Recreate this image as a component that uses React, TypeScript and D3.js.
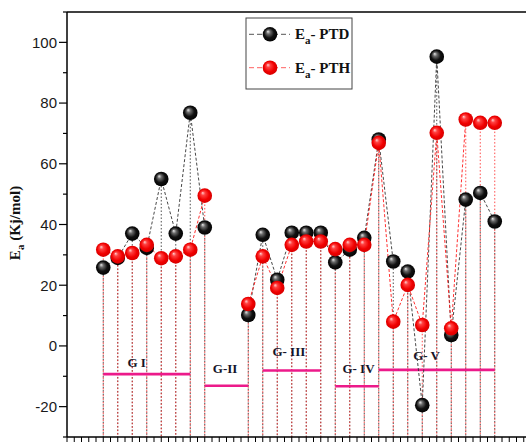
import React from 'react'
import * as d3 from 'd3'

// sample slots along x (two empty slots between G I and G-II data)
const slots = d3.range(0, 28)
const ptd = [25.8, 29, 37, 32.3, 55, 37, 76.8, 39, null, null, 10.2, 36.6, 21.8, 37.3, 37.3, 37.3, 27.5, 31.7, 35.6, 68, 27.8, 24.5, -19.5, 95.3, 3.6, 48.2, 50.4, 41.0]
const pth = [31.7, 29.5, 30.6, 33.3, 28.9, 29.5, 31.7, 49.5, null, null, 13.8, 29.5, 19.1, 33.3, 34.4, 34.4, 31.9, 33.3, 33.3, 66.9, 8.0, 20.1, 6.9, 70.2, 5.8, 74.6, 73.5, 73.5]

const groupNames = ['G I', 'G-II', 'G- III', 'G- IV', 'G- V']
const groupStart = [0, 7, 11, 16, 19]
const groupEnd = [6, 10, 15, 19, 27]
const groupLevel = [-9.3, -13.1, -8.1, -13.3, -7.9]
const groupLabelAt = [2.3, 8.4, 12.8, 17.6, 22.3]
const groupLabelLevel = [-6.9, -8.9, -3.3, -8.9, -4.6]

const yTicks = [-20, 0, 20, 40, 60, 80, 100]

const W = 526
const H = 446
const left = 67, top = 12, bottom = 437

const App = () => {
  const x = d3.scaleLinear().domain([-2.5, 29.5]).range([left, left + 14.5 * 32])
  const y = d3.scaleLinear().domain([-30, 110]).range([bottom, top])

  const series = [
    { name: 'PTD', values: ptd, line: '#333', grad: 'gBlack', drop: '#222' },
    { name: 'PTH', values: pth, line: '#ff1a1a', grad: 'gRed', drop: '#ff2020' },
  ]

  const lineGen = d3.line<[number, number | null]>()
    .defined(d => d[1] !== null)
    .x(d => x(d[0]))
    .y(d => y(d[1] as number))

  const minorY = d3.range(-30, 111, 10).filter(v => !yTicks.includes(v))
  const xTicks = d3.range(-2.5, 29.6, 0.5)

  return (
    <svg width={W} height={H} style={{ position: 'absolute', left: 0, top: 0, background: '#fff' }}>
      <defs>
        <radialGradient id="gBlack" cx="50%" cy="50%" r="55%" fx="35%" fy="30%">
          <stop offset="0%" stopColor="#e8e8e8" />
          <stop offset="25%" stopColor="#6a6a6a" />
          <stop offset="60%" stopColor="#111" />
          <stop offset="100%" stopColor="#000" />
        </radialGradient>
        <radialGradient id="gRed" cx="50%" cy="50%" r="55%" fx="35%" fy="30%">
          <stop offset="0%" stopColor="#ffd0d0" />
          <stop offset="25%" stopColor="#ff4040" />
          <stop offset="65%" stopColor="#f00000" />
          <stop offset="100%" stopColor="#d00000" />
        </radialGradient>
      </defs>

      {/* drop lines */}
      {series.map((s, si) =>
        s.values.map((v, i) => v === null ? null : (
          <line key={s.name + 'd' + i} x1={x(slots[i])} x2={x(slots[i])} y1={y(v)} y2={bottom}
            stroke={s.drop} strokeWidth={1} strokeDasharray="1.5,2" strokeDashoffset={si * 1.7} opacity={0.8} />
        )))}

      {/* group bars */}
      {groupNames.map((g, i) => (
        <g key={g}>
          <line x1={x(groupStart[i])} x2={x(groupEnd[i])} y1={y(groupLevel[i])} y2={y(groupLevel[i])}
            stroke="#ec1a8a" strokeWidth={2.6} />
          <text x={x(groupLabelAt[i])} y={y(groupLabelLevel[i])} textAnchor="middle"
            fontFamily="Liberation Serif" fontWeight="bold" fontSize={13} fill="#15152a">{g}</text>
        </g>
      ))}

      {/* connecting lines */}
      {series.map(s => (
        <path key={s.name + 'l'} d={lineGen(slots.map((p, i) => [p, s.values[i]] as [number, number | null])) || ''}
          fill="none" stroke={s.line} strokeWidth={0.9} strokeDasharray="3,2" />
      ))}

      {/* markers */}
      {series.map(s =>
        s.values.map((v, i) => v === null ? null : (
          <circle key={s.name + 'm' + i} cx={x(slots[i])} cy={y(v)} r={7.3} fill={`url(#${s.grad})`} />
        )))}

      {/* axes */}
      <line x1={left} x2={W} y1={top} y2={top} stroke="#000" strokeWidth={1.5} />
      <line x1={left} x2={left} y1={top} y2={bottom} stroke="#000" strokeWidth={1.5} />
      <line x1={left} x2={W} y1={bottom} y2={bottom} stroke="#000" strokeWidth={1.5} />
      {yTicks.map(t => (
        <g key={'yt' + t}>
          <line x1={left - 8} x2={left} y1={y(t)} y2={y(t)} stroke="#000" strokeWidth={1.2} />
          <text x={left - 10} y={y(t)} dy="0.36em" textAnchor="end" fontFamily="Liberation Sans" fontSize={15} fill="#1a1a1a">{t}</text>
        </g>
      ))}
      {minorY.map(t => (
        <line key={'ym' + t} x1={left - 4} x2={left} y1={y(t)} y2={y(t)} stroke="#000" strokeWidth={1.2} />
      ))}
      {xTicks.map(t => (
        <line key={'xt' + t} x1={x(t)} x2={x(t)} y1={bottom} y2={bottom + 5} stroke="#000" strokeWidth={1} />
      ))}

      {/* y title */}
      <text transform={`translate(20,${223}) rotate(-90)`} textAnchor="middle"
        fontFamily="Liberation Serif" fontWeight="bold" fontSize={15} fill="#111">
        E<tspan fontSize={11} dy={4}>a</tspan><tspan dy={-4}> (Kj/mol)</tspan>
      </text>

      {/* legend */}
      <rect x={246} y={18} width={106} height={71} fill="#fff" stroke="#444" strokeWidth={1} />
      {series.map((s, i) => {
        const ly = 34.3 + i * 33.4
        return (
          <g key={s.name + 'lg'}>
            <line x1={249} x2={290} y1={ly} y2={ly} stroke={i === 0 ? '#555' : '#ff6060'} strokeWidth={1} strokeDasharray="5,3" />
            <circle cx={270} cy={ly} r={7.3} fill={`url(#${s.grad})`} />
            <text x={295} y={ly + 5} fontFamily="Liberation Serif" fontWeight="bold" fontSize={15} fill="#111">
              E<tspan fontSize={11} dy={5}>a</tspan><tspan dy={-5}>- {s.name}</tspan>
            </text>
          </g>
        )
      })}
    </svg>
  )
}

export default App
